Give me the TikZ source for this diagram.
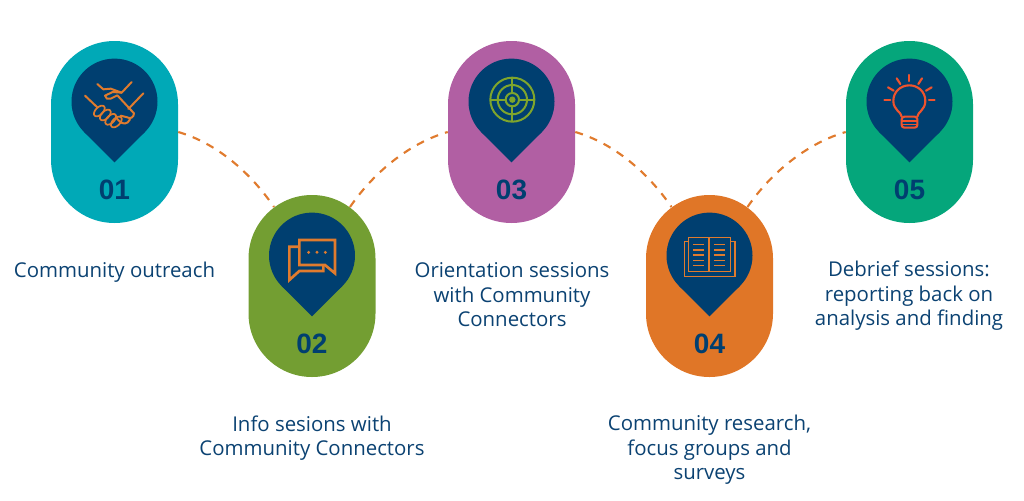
\documentclass[tikz,border=0pt]{standalone}
\usepackage{fontspec}
\setmainfont{Open Sans}
\newfontfamily\numfont{Liberation Sans}
\usetikzlibrary{calc, positioning}
\definecolor{navyPin}{HTML}{003F70}
\definecolor{navyText}{HTML}{0B4272}
\definecolor{linkOrange}{HTML}{E07B2E}
\definecolor{pillTeal}{HTML}{00A9B7}
\definecolor{pillGreen}{HTML}{739E32}
\definecolor{pillPurple}{HTML}{B15FA3}
\definecolor{pillOrange}{HTML}{E07627}
\definecolor{pillEmerald}{HTML}{05A67B}
\definecolor{iconOlive}{HTML}{7FA52C}
\definecolor{iconRed}{HTML}{F0532D}
\tikzset{
  pillbox/.style={draw=none, inner sep=0pt, minimum width=95.25pt, minimum height=136.5pt, rounded corners=47.6pt},
  numtext/.style={text=navyPin, font=\numfont\fontsize{21}{21}\selectfont\bfseries},
  captext/.style={text=navyText, align=center, font=\fontsize{15.3}{18.4}\selectfont},
  linkdash/.style={linkOrange, line width=1.6pt, dash pattern=on 6pt off 5.5pt},
  zoomgrid/.style 2 args={shift={(#1,#2)}, x=0.25pt, y=-0.25pt},
  iconline/.style={line width=1.5pt, line join=round, line cap=round},
}
\begin{document}
\begin{tikzpicture}[x=0.75pt, y=-0.75pt]
  \useasboundingbox (0,0) rectangle (1024,500);

  % Pills, pins and numbers
  \foreach \n/\px/\py/\col/\num in {1/114.5/132/pillTeal/01, 2/312/286/pillGreen/02,
      3/511.5/132/pillPurple/03, 4/709.5/286/pillOrange/04, 5/909.5/132/pillEmerald/05} {
    \node[pillbox, fill=\col] (pill\n) at (\px,\py) {};
    \fill[navyPin] (\px,\py-30.4) circle[radius=32.25pt];
    \fill[navyPin] (\px-30.4,\py) -- (\px,\py+30.4) -- (\px+30.4,\py) -- cycle;
    \node[numtext] (num\n) at (\px,\py+58) {\num};
    \coordinate (in\n) at (\px-38,\py-79);
    \coordinate (out\n) at (\px+38,\py-79);
  }

  % Dashed links
  \draw[linkdash] (pill1.east) .. controls +(38,11) and +(-24,-35) .. (in2);
  \draw[linkdash] (out2) .. controls +(24,-35) and +(-38,11) .. (pill3.west);
  \draw[linkdash] (pill3.east) .. controls +(38,11) and +(-24,-35) .. (in4);
  \draw[linkdash] (out4) .. controls +(24,-35) and +(-38,11) .. (pill5.west);

  % Captions
  \node[captext] (cap1) at (114.5,272) {Community outreach};
  \node[captext] (cap2) at (312,438) {Info sesions with\\Community Connectors};
  \node[captext] (cap3) at (512,295) {Orientation sessions\\with Community\\Connectors};
  \node[captext] (cap4) at (709.5,450) {Community research,\\focus groups and\\surveys};
  \node[captext] (cap5) at (909,296) {Debrief sessions:\\reporting back on\\analysis and finding};

  % Handshake
  \begin{scope}[zoomgrid={40}{30}, linkOrange, iconline]
    \draw (135,197) -- (172,232);
    \draw (310,190) -- (265,237);
    \draw (275,156) -- (245,188) -- (212,176) .. controls (205,176) and (198,178) .. (190,178) -- (172,162);
    \draw (245,188) -- (218,186) -- (195,197) .. controls (195,205) and (205,210) .. (212,206) -- (232,196) -- (282,250);
    \draw (282,250) .. controls (282,262) and (270,268) .. (262,262) -- (242,257);
    \draw (270,268) .. controls (262,285) and (248,282) .. (240,275) -- (228,263);
    \foreach \cx/\cy in {178/243, 196/255, 212/268, 229/276} {
      \draw[line width=1.3pt] (\cx,\cy) circle[x radius=2.8pt, y radius=5pt, rotate=-45];
    }
  \end{scope}

  % Chat bubbles
  \begin{scope}[zoomgrid={240}{190}, linkOrange, line width=2pt, line join=miter]
    \draw (178,150) -- (285,150) -- (285,250) -- (255,225) -- (178,225) -- cycle;
    \draw (178,170) -- (148,170) -- (148,270) -- (178,243) -- (250,243) -- (250,225);
    \foreach \dx in {206,231,256} {
      \fill (\dx,187) circle[radius=1.2pt];
    }
  \end{scope}

  % Target
  \begin{scope}[zoomgrid={440}{35}, iconOlive, line width=1.5pt]
    \draw (217,194) circle[radius=16.5pt];
    \draw (217,194) circle[radius=11pt];
    \draw (217,194) circle[radius=5pt];
    \fill (217,194) circle[radius=2.4pt];
    \draw (217,128) -- (217,175);
    \draw (217,213) -- (217,260);
    \draw (151,194) -- (198,194);
    \draw (236,194) -- (283,194);
  \end{scope}

  % Book
  \begin{scope}[zoomgrid={640}{190}, linkOrange, line width=1pt]
    \draw (145,142) rectangle (207,245);
    \draw (207,142) rectangle (272,245);
    \draw (145,155) -- (133,155) -- (133,260) -- (285,260) -- (285,155) -- (272,155);
    \foreach \ly in {163,180,195,211,227} {
      \draw (160,\ly) -- (192,\ly);
      \draw (222,\ly) -- (256,\ly);
    }
  \end{scope}

  % Bulb
  \begin{scope}[zoomgrid={740}{35}, iconRed, iconline, line width=1.6pt]
    \draw (485,245) .. controls (485,232) and (460,225) .. (460,198)
       .. controls (460,170) and (482,151) .. (508,151)
       .. controls (534,151) and (556,170) .. (556,198)
       .. controls (556,225) and (532,232) .. (532,245);
    \draw[rounded corners=2pt] (485,245) -- (485,278) -- (532,278) -- (532,245) -- cycle;
    \draw[line width=1pt] (485,258) -- (532,258);
    \draw[line width=1pt] (485,268) -- (532,268);
    \foreach \xa/\ya/\xb/\yb in {508/120/508/138, 470/130/481/147, 546/130/535/147,
        444/157/461/167, 575/157/558/167, 433/194/451/194, 584/194/567/194} {
      \draw (\xa,\ya) -- (\xb,\yb);
    }
  \end{scope}
\end{tikzpicture}
\end{document}
